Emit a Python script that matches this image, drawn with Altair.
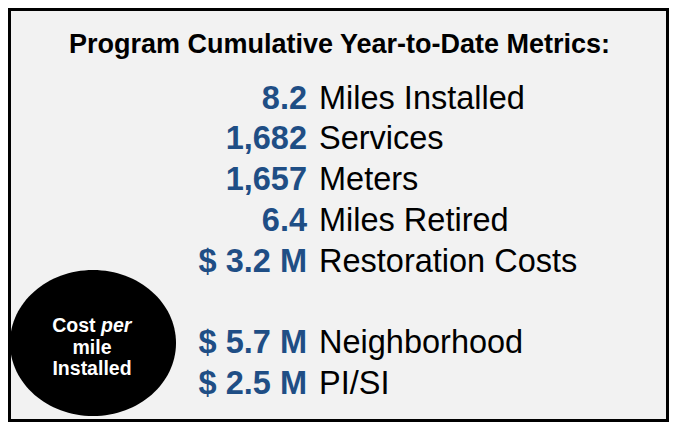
import altair as alt
import pandas as pd

title_text = "Program Cumulative Year-to-Date Metrics:"
values = ["8.2", "1,682", "1,657", "6.4", "$ 3.2 M", "$ 5.7 M", "$ 2.5 M"]
labels = ["Miles Installed", "Services", "Meters", "Miles Retired",
          "Restoration Costs", "Neighborhood", "PI/SI"]
slots = [0, 1, 2, 3, 4, 6, 7]
badge_lines = ["mile", "Installed"]
badge_first = ["Cost", "per"]

BLUE = "#1F4E85"
FONT = "Liberation Sans"
W, H = 661, 414

df = pd.DataFrame({"slot": slots, "value": values, "label": labels})

yscale = alt.Scale(domain=[0, 7], range=[100.5, 386])

base = alt.Chart(df)

frame = alt.Chart(pd.DataFrame({"k": [0]})).mark_rect(
    fill="#F2F2F2", stroke="black", strokeWidth=3
).encode(x=alt.value(1.5), x2=alt.value(W - 1.5), y=alt.value(1.5), y2=alt.value(H - 1.5))

title = alt.Chart(pd.DataFrame({"t": [title_text]})).mark_text(
    font=FONT, fontSize=27, fontWeight="bold", color="black", align="center", baseline="alphabetic"
).encode(text="t:N", x=alt.value(331.5), y=alt.value(45))

vals = base.mark_text(
    font=FONT, fontSize=32.5, fontWeight="bold", color=BLUE, align="right", baseline="alphabetic"
).encode(text="value:N", x=alt.value(299), y=alt.Y("slot:Q", scale=yscale, axis=None))

labs = base.mark_text(
    font=FONT, fontSize=32.5, color="black", align="left", baseline="alphabetic"
).encode(text="label:N", x=alt.value(311), y=alt.Y("slot:Q", scale=yscale, axis=None))

ellipse_path = "M -1 0 A 1 0.88 0 1 0 1 0 A 1 0.88 0 1 0 -1 0 Z"
badge = alt.Chart(pd.DataFrame({"k": [0]})).mark_point(
    shape=ellipse_path, filled=True, color="black", opacity=1, size=166 ** 2, strokeWidth=0
).encode(x=alt.value(85), y=alt.value(335))

cost = alt.Chart(pd.DataFrame({"t": [badge_first[0]]})).mark_text(
    font=FONT, fontSize=19.5, fontWeight="bold", color="white", align="right", baseline="alphabetic"
).encode(text="t:N", x=alt.value(87.5), y=alt.value(324))

per = alt.Chart(pd.DataFrame({"t": [badge_first[1]]})).mark_text(
    font=FONT, fontSize=19.5, fontWeight="bold", fontStyle="italic", color="white", align="left",
    baseline="alphabetic"
).encode(text="t:N", x=alt.value(93), y=alt.value(324))

line2 = alt.Chart(pd.DataFrame({"t": [badge_lines[0]]})).mark_text(
    font=FONT, fontSize=19.5, fontWeight="bold", color="white", align="center", baseline="alphabetic"
).encode(text="t:N", x=alt.value(84), y=alt.value(346))

line3 = alt.Chart(pd.DataFrame({"t": [badge_lines[1]]})).mark_text(
    font=FONT, fontSize=19.5, fontWeight="bold", color="white", align="center", baseline="alphabetic"
).encode(text="t:N", x=alt.value(84), y=alt.value(367))

chart = alt.layer(frame, title, vals, labs, badge, cost, per, line2, line3).properties(
    width=W, height=H, padding=0, autosize=alt.AutoSizeParams(type="none"), background="white"
).configure_view(stroke=None)

chart.save("out.html", embed_options={"renderer": "svg", "actions": False})
